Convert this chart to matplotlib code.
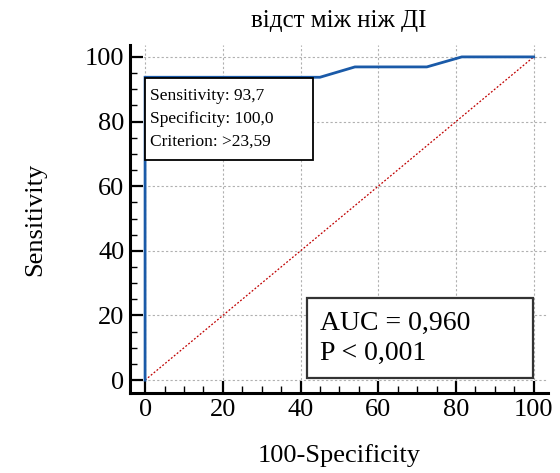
import matplotlib.pyplot as plt
from matplotlib.patches import Rectangle
from matplotlib.ticker import MultipleLocator

# ROC curve points (100-Specificity, Sensitivity)
fpr = [0, 0, 45, 54, 72.5, 81.5, 100]
tpr = [0, 93.7, 93.7, 96.9, 96.9, 100, 100]
diag = [0, 100]

plt.rcParams['font.family'] = ['Liberation Serif', 'DejaVu Serif']

fig = plt.figure(figsize=(5.6, 4.73), dpi=100)
ax = fig.add_axes([0.232, 0.169, 0.746, 0.736])

ax.plot(diag, diag, color='#c00000', lw=0.9, ls=(0, (1.5, 1.5)), zorder=2)
ax.plot(fpr, tpr, color='#1a5aa8', lw=2.0, zorder=3, solid_joinstyle='miter')

ax.set_xlim(-3.9, 103.6)
ax.set_ylim(-4, 103.7)
ax.xaxis.set_major_locator(MultipleLocator(20))
ax.yaxis.set_major_locator(MultipleLocator(20))
ax.xaxis.set_minor_locator(MultipleLocator(5))
ax.yaxis.set_minor_locator(MultipleLocator(5))
ax.grid(True, which='major', color='#b0b0b0', ls=(0, (2, 2)), lw=0.8)
ax.set_axisbelow(True)

for s in ['top', 'right']:
    ax.spines[s].set_visible(False)
for s in ['left', 'bottom']:
    ax.spines[s].set_linewidth(2.2)
ax.tick_params(which='major', direction='in', length=9, width=1.6, labelsize=19, pad=4)
ax.tick_params(which='minor', direction='in', length=5, width=1.0)

ax.set_xlabel('100-Specificity', fontsize=19, labelpad=17)
ax.set_ylabel('Sensitivity', fontsize=19, labelpad=28)
ax.set_title('відст між ніж ДІ', fontsize=18, pad=13)

# criterion box
ax.add_patch(Rectangle((0, 68.1), 43.2, 25.4, fc='white', ec='black', lw=1.3, zorder=4))
ax.text(1.3, 80.8, 'Sensitivity: 93,7\nSpecificity: 100,0\nCriterion: >23,59',
        fontsize=12.5, va='center', ha='left', linespacing=1.55, zorder=5)

# AUC box
ax.add_patch(Rectangle((41.6, 0.6), 58.1, 24.8, fc='white', ec='#333333', lw=1.6, zorder=4))
ax.text(45, 13, 'AUC = 0,960\nP < 0,001', fontsize=20, va='center', ha='left',
        linespacing=1.25, zorder=5)

fig.savefig('out.png', dpi=100)
